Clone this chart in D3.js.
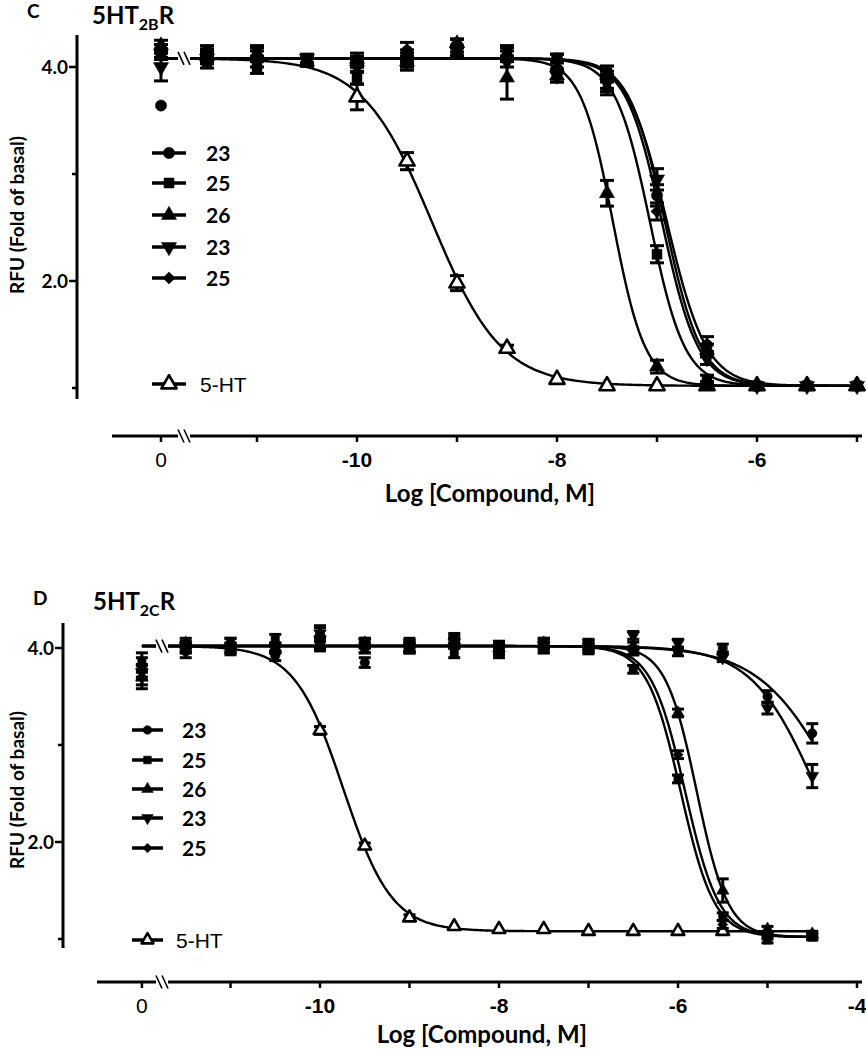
<!DOCTYPE html>
<html><head><meta charset="utf-8">
<script src="https://cdn.jsdelivr.net/npm/d3@7"></script>
<style>
body{margin:0;background:#fff;}
svg{display:block;}
</style></head>
<body>
<svg id="chart" width="866" height="1050"></svg>
<script>
// ---------- DATA ----------
const seriesNames = ["23", "25", "26", "23", "25"];
const refName = "5-HT";
const yTickValues = [1, 2, 3, 4];
const yTickLabels = {2: "2.0", 4: "4.0"};
const xAxisTitle = "Log [Compound, M]";
const yAxisTitle = "RFU (Fold of basal)";

// Panel C : 5HT2B R
const logC = [0, -11.5, -11, -10.5, -10, -9.5, -9, -8.5, -8, -7.5, -7, -6.5, -6, -5.5, -5];
const c23a  = [3.64, 4.15, 4.10, 4.05, 4.05, 4.15, 4.20, 4.10, 4.08, 3.88, 2.80, 1.40, 1.02, 1.02, 1.02];
const c25a  = [4.15, 4.05, 4.00, 4.05, 3.90, 4.10, 4.15, 4.12, 4.08, 3.95, 2.25, 1.08, 1.02, 1.02, 1.02];
const c26   = [4.20, 4.10, 4.12, 4.05, 4.05, 4.05, 4.22, 3.90, 3.92, 2.82, 1.20, 1.03, 1.02, 1.02, 1.02];
const c23b  = [4.00, 4.08, 4.05, 4.08, 4.00, 4.05, 4.15, 4.05, 3.92, 3.85, 2.95, 1.28, 1.02, 1.02, 1.02];
const c25b  = [4.12, 4.12, 4.15, 4.05, 4.08, 4.05, 4.22, 4.15, 4.00, 3.80, 2.65, 1.35, 1.03, 1.02, 1.02];
const c5ht  = [null, null, null, null, 3.72, 3.12, 1.98, 1.37, 1.08, 1.02, 1.02, 1.02, 1.02, 1.02, 1.02];
const c23aErr = [0, .05, .05, .04, .05, .08, .06, .05, .04, .08, .10, .08, .02, .02, .02];
const c25aErr = [.06, .06, .06, .04, .06, .06, .05, .06, .04, .06, .08, .04, .02, .02, .02];
const c26Err  = [.05, .05, .06, .04, .05, .05, .04, .20, .06, .12, .06, .03, .02, .02, .02];
const c23bErr = [.13, .05, .05, .04, .05, .08, .04, .05, .06, .08, .10, .06, .02, .02, .02];
const c25bErr = [.05, .05, .05, .04, .05, .05, .04, .05, .04, .06, .08, .06, .02, .02, .02];
const c5htErr = [0, 0, 0, 0, .12, .08, .07, .03, .02, .02, .02, .02, .02, .02, .02];
const fitC_logIC50 = [-6.90, -7.07, -7.44, -6.92, -6.95, -9.25];
const fitC_hill    = [2.2, 2.5, 2.7, 2.4, 2.4, 1.25];
const fitC_top     = [4.08, 4.08, 4.08, 4.08, 4.08, 4.08];
const fitC_bottom  = [1.02, 1.02, 1.02, 1.02, 1.02, 1.02];
const xTicksC = [-11, -10, -9, -8, -7, -6, -5];
const xLabelsC = {"-10": "-10", "-8": "-8", "-6": "-6"};

// Panel D : 5HT2C R
const logD = [0, -11.5, -11, -10.5, -10, -9.5, -9, -8.5, -8, -7.5, -7, -6.5, -6, -5.5, -5, -4.5];
const d23a  = [3.80, 4.00, 3.98, 3.92, 4.05, 3.85, 4.00, 4.05, 3.98, 4.05, 4.00, 3.97, 3.96, 4.00, 3.50, 3.12];
const d25a  = [3.85, 4.00, 4.05, 4.08, 4.02, 4.00, 4.00, 3.95, 3.95, 4.00, 3.98, 3.78, 2.65, 1.23, 0.99, 1.02];
const d26   = [3.70, 4.05, 4.00, 4.00, 4.15, 4.05, 4.00, 4.08, 4.00, 4.05, 4.02, 4.02, 3.33, 1.50, 1.10, 1.05];
const d23b  = [3.75, 4.02, 4.00, 4.00, 4.15, 4.05, 4.05, 4.05, 4.00, 4.03, 4.05, 4.13, 4.05, 3.90, 3.38, 2.68];
const d25b  = [3.70, 3.95, 4.05, 4.00, 4.05, 4.00, 4.02, 4.10, 4.02, 4.00, 4.00, 3.97, 2.90, 1.15, 1.03, 1.03];
const d5ht  = [null, null, null, null, 3.15, 1.96, 1.22, 1.13, 1.10, 1.10, 1.08, 1.08, 1.08, 1.08, null, null];
const d23aErr = [.10, .05, .05, .05, .06, .05, .05, .05, .05, .05, .04, .04, .04, .04, .06, .10];
const d25aErr = [.10, .05, .05, .06, .05, .05, .05, .05, .05, .05, .04, .04, .04, .04, .03, .03];
const d26Err  = [.12, .05, .05, .05, .08, .05, .05, .05, .05, .05, .04, .04, .04, .12, .03, .03];
const d23bErr = [.08, .05, .05, .05, .06, .05, .05, .05, .05, .05, .04, .04, .04, .04, .06, .12];
const d25bErr = [.08, .05, .05, .05, .05, .05, .05, .05, .05, .05, .04, .04, .04, .04, .03, .03];
const d5htErr = [0, 0, 0, 0, .04, .03, .03, .02, .02, .02, .02, .02, .02, .02, 0, 0];
const fitD_logIC50 = [-4.20, -5.97, -5.79, -4.45, -5.92, -9.74];
const fitD_hill    = [1.0, 2.3, 2.5, 1.2, 2.3, 1.6];
const fitD_top     = [4.02, 4.02, 4.02, 4.02, 4.02, 4.02];
const fitD_bottom  = [1.07, 1.02, 1.02, 1.07, 1.02, 1.08];
const xTicksD = [-11, -10, -9, -8, -7, -6, -5, -4];
const xLabelsD = {"-10": "-10", "-8": "-8", "-6": "-6", "-4": "-4"};

// ---------- DRAWING ----------
const svg = d3.select("#chart");
const BOLD = "Lato, 'Open Sans', 'DejaVu Sans', sans-serif";
const NARROW = "'Liberation Sans Narrow', 'Liberation Sans', Arial, sans-serif";

function markerPath(kind, size) {
  const t = {circle: d3.symbolCircle, square: d3.symbolSquare, triangle: d3.symbolTriangle,
             triangleDown: d3.symbolTriangle, diamond: d3.symbolSquare, triangleOpen: d3.symbolTriangle}[kind];
  return d3.symbol().type(t).size(size)();
}
function markerRot(kind) { return kind === "triangleDown" ? 180 : (kind === "diamond" ? 45 : 0); }
const kinds = ["circle", "square", "triangle", "triangleDown", "diamond", "triangleOpen"];

function drawMarker(g, kind, x, y, size) {
  const open = kind === "triangleOpen";
  g.append("path").attr("d", markerPath(kind, size))
    .attr("transform", `translate(${x},${y}) rotate(${markerRot(kind)})`)
    .attr("fill", open ? "#fff" : "#000")
    .attr("stroke", "#000").attr("stroke-width", open ? 2.6 : 0.5)
    .attr("stroke-linejoin", "round");
}

function drawBreak(g, x, y, h) {
  g.append("rect").attr("x", x - 6).attr("y", y - 4).attr("width", 12).attr("height", 8).attr("fill", "#fff");
  [-3, 3].forEach(o => g.append("line")
    .attr("x1", x + o - 3).attr("y1", y - h / 2).attr("x2", x + o + 3).attr("y2", y + h / 2)
    .attr("stroke", "#000").attr("stroke-width", 1.6));
}

function panel(cfg) {
  const g = svg.append("g");
  const x = d3.scaleLinear().domain(cfg.xDomain).range(cfg.xRange);
  const y = d3.scaleLinear().domain([1, 4]).range(cfg.yRange);
  const px = v => v === 0 ? x(cfg.zeroPos) : x(v);

  // panel letter and title
  g.append("text").attr("x", cfg.letterX).attr("y", cfg.letterY).text(cfg.letter)
    .attr("font-family", BOLD).attr("font-weight", 700).attr("font-size", 19);
  const t = g.append("text").attr("x", cfg.titleX).attr("y", cfg.titleY)
    .attr("font-family", BOLD).attr("font-weight", 700).attr("font-size", 24);
  t.append("tspan").text("5HT");
  t.append("tspan").text(cfg.sub).attr("font-size", 16).attr("dy", 6);
  t.append("tspan").text("R").attr("dy", -6);

  // y axis (custom, offset)
  const ya = g.append("g").attr("transform", `translate(${cfg.yAxisX},0)`);
  ya.append("line").attr("x1", 0).attr("x2", 0).attr("y1", cfg.yAxisTop).attr("y2", cfg.yAxisBottom)
    .attr("stroke", "#000").attr("stroke-width", 3);
  yTickValues.forEach(v => {
    const len = yTickLabels[v] ? 8 : 5;
    ya.append("line").attr("x1", -len).attr("x2", 0).attr("y1", y(v)).attr("y2", y(v))
      .attr("stroke", "#000").attr("stroke-width", 2.5);
    if (yTickLabels[v]) ya.append("text").attr("x", -9).attr("y", y(v)).attr("dy", "0.36em")
      .attr("text-anchor", "end").text(yTickLabels[v])
      .attr("font-family", BOLD).attr("font-weight", 700).attr("font-size", 19);
  });
  g.append("text").attr("transform", `translate(${cfg.yTitleX},${cfg.yTitleY}) rotate(-90)`)
    .attr("text-anchor", "middle").text(yAxisTitle)
    .attr("font-family", BOLD).attr("font-weight", 700).attr("font-size", 19);

  // x axis
  const xa = g.append("g").attr("transform", `translate(0,${cfg.xAxisY})`);
  xa.append("line").attr("x1", cfg.xAxisLeft).attr("x2", cfg.xAxisRight).attr("y1", 0).attr("y2", 0)
    .attr("stroke", "#000").attr("stroke-width", 3);
  [0].concat(cfg.xTicks).forEach(v => {
    xa.append("line").attr("x1", px(v)).attr("x2", px(v)).attr("y1", 0).attr("y2", 6)
      .attr("stroke", "#000").attr("stroke-width", 2.5);
  });
  xa.append("text").attr("x", px(0)).attr("y", 31).attr("text-anchor", "middle").text("0")
    .attr("font-family", NARROW).attr("font-size", 21);
  Object.keys(cfg.xLabels).forEach(k => {
    xa.append("text").attr("x", x(+k)).attr("y", 31).attr("text-anchor", "middle").text(cfg.xLabels[k])
      .attr("font-family", NARROW).attr("font-weight", 700).attr("font-size", 21);
  });
  drawBreak(xa, cfg.breakX, 0, 13);
  g.append("text").attr("x", cfg.xTitleX).attr("y", cfg.xTitleY).attr("text-anchor", "middle")
    .text(xAxisTitle).attr("font-family", BOLD).attr("font-weight", 700).attr("font-size", 24);

  // fitted curves, drawn from the "0" position to the highest concentration tested
  const xsLast = d3.max(cfg.xs.filter(v => v !== 0));
  const xmin = cfg.zeroPos;
  const line = d3.line().x(d => x(d[0])).y(d => y(d[1]));
  cfg.fit.ic50.forEach((c, i) => {
    const pts = [];
    for (let v = xmin; v <= xsLast + 1e-9; v += 0.02) {
      const val = cfg.fit.bottom[i] + (cfg.fit.top[i] - cfg.fit.bottom[i]) / (1 + Math.pow(10, (v - c) * cfg.fit.hill[i]));
      pts.push([v, val]);
    }
    g.append("path").attr("d", line(pts)).attr("fill", "none").attr("stroke", "#000").attr("stroke-width", 2.4);
  });
  drawBreak(g, cfg.breakX, y(cfg.fit.top[0]), 13);

  // error bars and markers (5-HT first so filled markers cover it on the plateau)
  [5, 0, 1, 2, 3, 4].forEach(i => {
    const vals = cfg.series[i], errs = cfg.errs[i];
    vals.forEach((v, j) => {
      if (v == null) return;
      const xx = px(cfg.xs[j]);
      const e = errs[j];
      if (e > 0.025) {
        g.append("line").attr("x1", xx).attr("x2", xx).attr("y1", y(v - e)).attr("y2", y(v + e))
          .attr("stroke", "#000").attr("stroke-width", 3);
        [v - e, v + e].forEach(w => g.append("line").attr("x1", xx - cfg.cap).attr("x2", xx + cfg.cap)
          .attr("y1", y(w)).attr("y2", y(w)).attr("stroke", "#000").attr("stroke-width", 3));
      }
    });
    vals.forEach((v, j) => {
      if (v == null) return;
      drawMarker(g, kinds[i], px(cfg.xs[j]), y(v), cfg.msize * (kinds[i] === "diamond" ? 0.75 : 1));
    });
  });

  // legend
  const lg = g.append("g");
  cfg.legendY.forEach((ly, i) => {
    lg.append("line").attr("x1", cfg.legendX1).attr("x2", cfg.legendX2).attr("y1", ly).attr("y2", ly)
      .attr("stroke", "#000").attr("stroke-width", 3.5);
    drawMarker(lg, kinds[i], (cfg.legendX1 + cfg.legendX2) / 2, ly, cfg.lsize * (kinds[i] === "diamond" ? 0.75 : 1));
    const isRef = i === 5;
    lg.append("text").attr("x", isRef ? cfg.legendTextX - 6 : cfg.legendTextX).attr("y", ly).attr("dy", "0.36em")
      .text(isRef ? refName : seriesNames[i])
      .attr("font-family", isRef ? NARROW : BOLD).attr("font-weight", isRef ? 400 : 700)
      .attr("font-size", isRef ? 21 : 21);
  });
}

panel({
  letter: "C", sub: "2B", letterX: 27, letterY: 18, titleX: 92, titleY: 24,
  xDomain: [-12, -5], xRange: [157, 857], yRange: [388, 67], zeroPos: -11.96,
  yAxisX: 77, yAxisTop: 35, yAxisBottom: 399, yTitleX: 24, yTitleY: 215,
  xAxisY: 436, xAxisLeft: 112, xAxisRight: 862, xTicks: xTicksC, xLabels: xLabelsC,
  breakX: 184, xTitleX: 490, xTitleY: 502,
  xs: logC, series: [c23a, c25a, c26, c23b, c25b, c5ht],
  errs: [c23aErr, c25aErr, c26Err, c23bErr, c25bErr, c5htErr],
  fit: {ic50: fitC_logIC50, hill: fitC_hill, top: fitC_top, bottom: fitC_bottom},
  cap: 7, msize: 100, lsize: 100,
  legendY: [153, 183, 215, 247, 278, 384], legendX1: 152, legendX2: 186, legendTextX: 206
});

panel({
  letter: "D", sub: "2C", letterX: 33, letterY: 605, titleX: 93, titleY: 610,
  xDomain: [-12, -4], xRange: [141, 857], yRange: [939, 648], zeroPos: -11.99,
  yAxisX: 63, yAxisTop: 623, yAxisBottom: 948, yTitleX: 24, yTitleY: 790,
  xAxisY: 982, xAxisLeft: 97, xAxisRight: 862, xTicks: xTicksD, xLabels: xLabelsD,
  breakX: 162, xTitleX: 482, xTitleY: 1043,
  xs: logD, series: [d23a, d25a, d26, d23b, d25b, d5ht],
  errs: [d23aErr, d25aErr, d26Err, d23bErr, d25bErr, d5htErr],
  fit: {ic50: fitD_logIC50, hill: fitD_hill, top: fitD_top, bottom: fitD_bottom},
  cap: 6, msize: 70, lsize: 60,
  legendY: [730, 760, 789, 818, 848, 940], legendX1: 132, legendX2: 163, legendTextX: 182
});
</script>
</body></html>
